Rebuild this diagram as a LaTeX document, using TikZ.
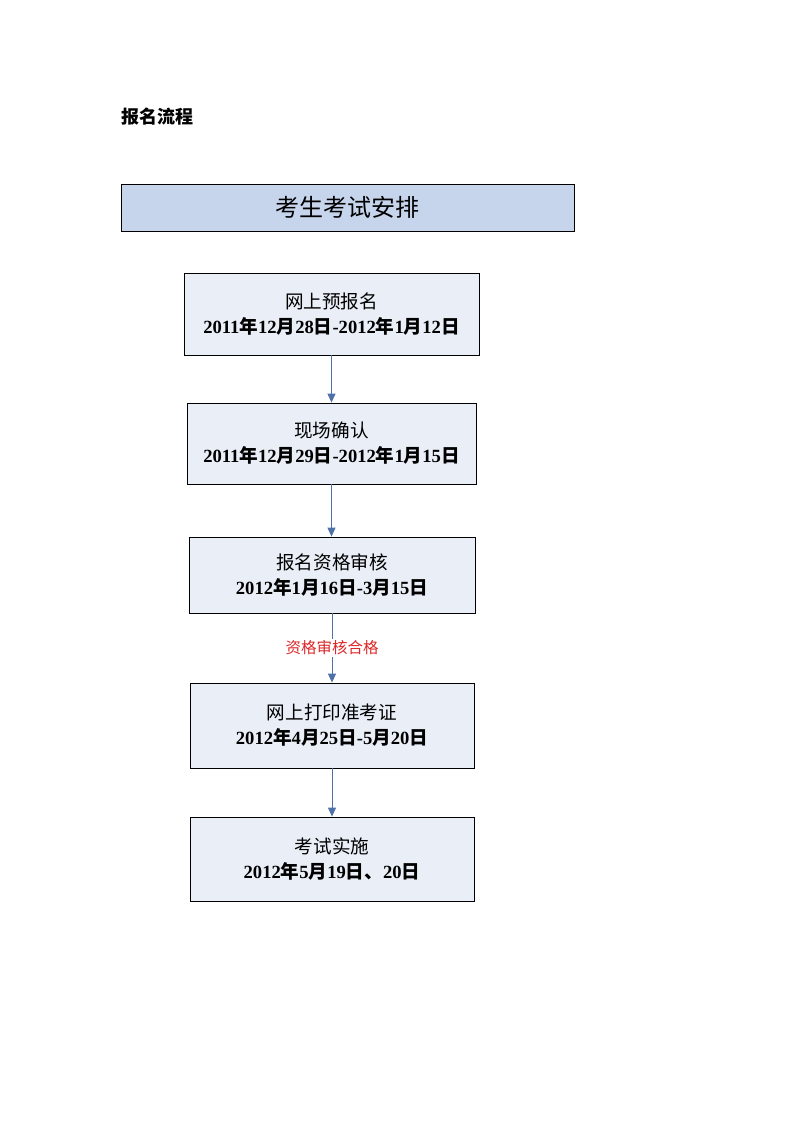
\documentclass[tikz,border=0pt]{standalone}
\usepackage{fontspec}
\setmainfont{Liberation Serif}
\newfontfamily\cjk{Noto Sans CJK SC}
\newcommand\zh[1]{{\cjk #1}}
\usetikzlibrary{arrows.meta,calc}
\definecolor{hdrfill}{RGB}{198,212,236}
\definecolor{boxfill}{RGB}{233,238,247}
\definecolor{arrowc}{RGB}{79,112,168}
\definecolor{lblred}{RGB}{220,40,40}
\tikzset{
  stepbox/.style={draw=black, line width=0.8pt, fill=boxfill, align=center, inner sep=0pt,
    font=\fontsize{18.6}{25}\selectfont},
  hdrbox/.style={draw=black, line width=0.8pt, fill=hdrfill, inner sep=0pt,
    font=\fontsize{24}{28}\selectfont\cjk},
  flow/.style={draw=arrowc, line width=1pt, -{Triangle[length=9pt,width=8pt]}},
}
\begin{document}
\begin{tikzpicture}[x=1pt,y=-1pt]
\useasboundingbox (0,0) rectangle (794,1123);
\node[anchor=west, inner sep=0pt, font=\fontsize{18}{20}\selectfont\cjk\bfseries] (title) at (121,117) {报名流程};
\node[hdrbox, minimum width=453pt, minimum height=47pt] (hdr) at (347.5,207.5) {考生考试安排};
\node[stepbox, minimum width=295pt, minimum height=82pt] (b1) at (331.5,314)
  {\zh{网上预报名}\\ \textbf{2011\zh{\bfseries 年}12\zh{\bfseries 月}28\zh{\bfseries 日}-2012\zh{\bfseries 年}1\zh{\bfseries 月}12\zh{\bfseries 日}}};
\node[stepbox, minimum width=289pt, minimum height=81pt] (b2) at (331.5,443.5)
  {\zh{现场确认}\\ \textbf{2011\zh{\bfseries 年}12\zh{\bfseries 月}29\zh{\bfseries 日}-2012\zh{\bfseries 年}1\zh{\bfseries 月}15\zh{\bfseries 日}}};
\node[stepbox, minimum width=286pt, minimum height=76pt] (b3) at (332,575)
  {\zh{报名资格审核}\\ \textbf{2012\zh{\bfseries 年}1\zh{\bfseries 月}16\zh{\bfseries 日}-3\zh{\bfseries 月}15\zh{\bfseries 日}}};
\node[stepbox, minimum width=284pt, minimum height=85pt] (b4) at (332,725.5)
  {\zh{网上打印准考证}\\ \textbf{2012\zh{\bfseries 年}4\zh{\bfseries 月}25\zh{\bfseries 日}-5\zh{\bfseries 月}20\zh{\bfseries 日}}};
\node[stepbox, minimum width=284pt, minimum height=84pt] (b5) at (332,859)
  {\zh{考试实施}\\ \textbf{2012\zh{\bfseries 年}5\zh{\bfseries 月}19\zh{\bfseries 日、}20\zh{\bfseries 日}}};
\draw[flow] (b1.south) -- (b1.south |- b2.north);
\draw[flow] (b2.south) -- (b2.south |- b3.north);
\draw[flow] (b3.south) -- node[fill=white, text=lblred, inner sep=2pt, font=\fontsize{15.5}{17}\selectfont\cjk] (lbl) {资格审核合格} (b3.south |- b4.north);
\draw[flow] (b4.south) -- (b4.south |- b5.north);
\end{tikzpicture}
\end{document}
